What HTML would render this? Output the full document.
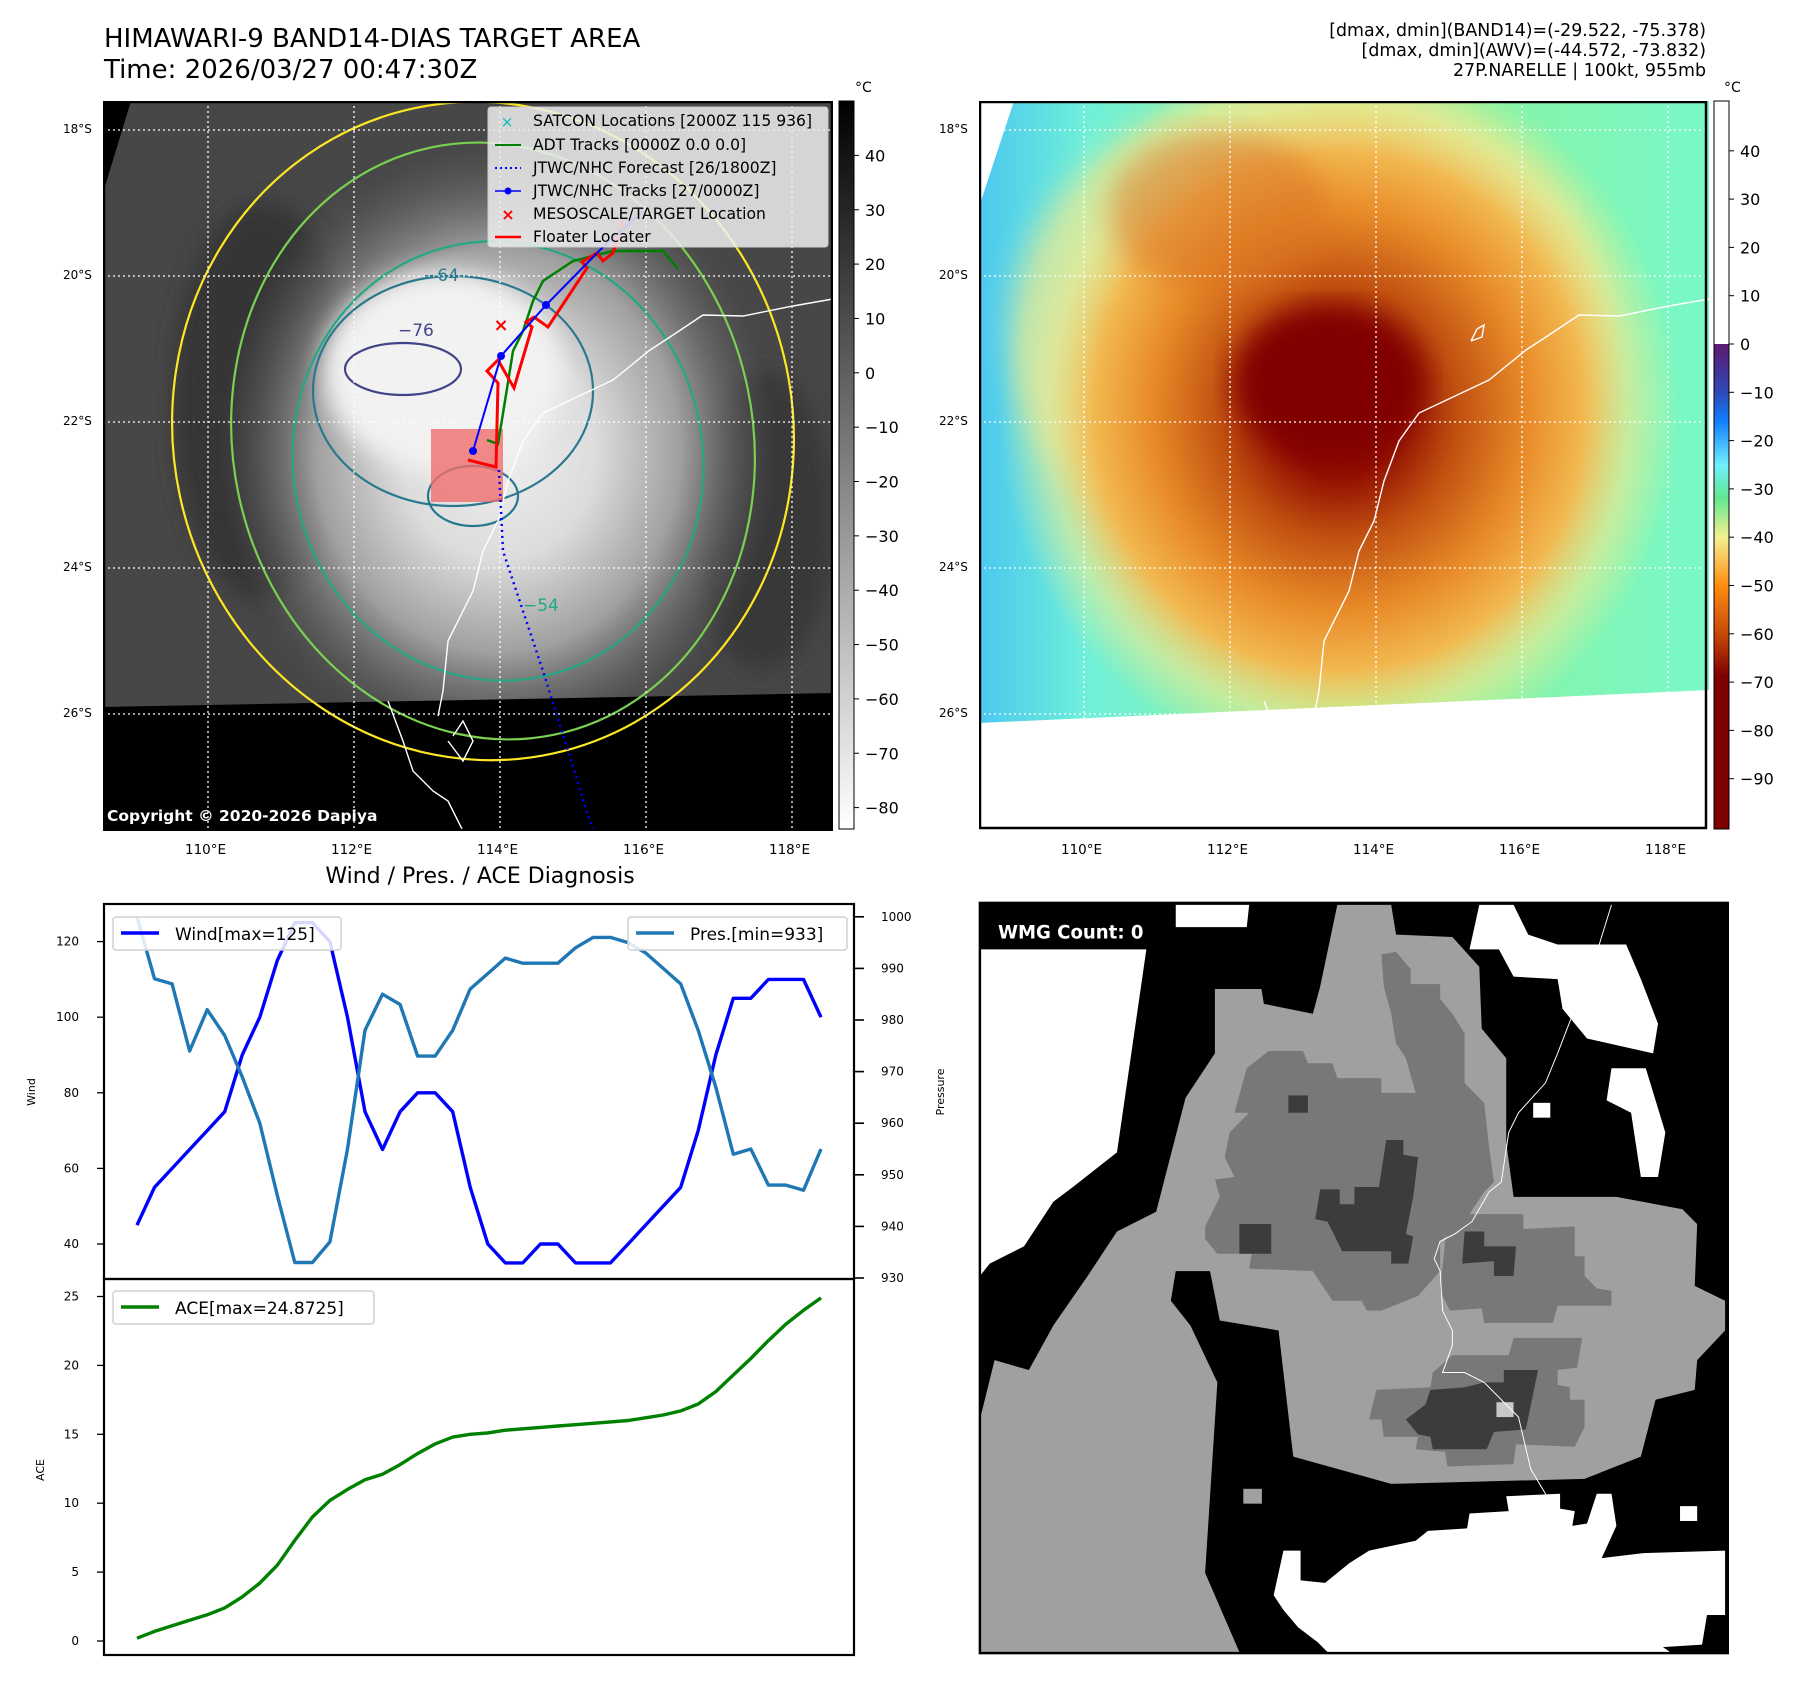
<!DOCTYPE html>
<html><head><meta charset="utf-8">
<style>
html,body{margin:0;padding:0;background:#fff;}
body{width:1797px;height:1690px;position:relative;overflow:hidden;font-family:"DejaVu Sans","Liberation Sans",sans-serif;}
.t{position:absolute;white-space:nowrap;color:#000;}
svg{position:absolute;}
</style></head><body>

<div class="t" style="left:104px;top:24px;font-size:26px;line-height:31px;">HIMAWARI-9 BAND14-DIAS TARGET AREA<br>Time: 2026/03/27 00:47:30Z</div>
<div class="t" style="right:91px;top:21px;font-size:17.4px;line-height:20px;text-align:right;">[dmax, dmin](BAND14)=(-29.522, -75.378)<br>[dmax, dmin](AWV)=(-44.572, -73.832)<br>27P.NARELLE | 100kt, 955mb</div>

<!-- LEFT MAP -->
<svg style="left:103px;top:101px" width="730" height="730" viewBox="0 0 730 730">
<defs>
<radialGradient id="core" cx="0.5" cy="0.5" r="0.5">
<stop offset="0" stop-color="#f0f0f0"/><stop offset="0.35" stop-color="#dcdcdc"/><stop offset="0.65" stop-color="#a0a0a0"/><stop offset="1" stop-color="#606060" stop-opacity="0"/>
</radialGradient>
<filter id="bl"><feGaussianBlur stdDeviation="12"/></filter>
</defs>
<rect width="730" height="730" fill="#474747"/>
<ellipse cx="160" cy="300" rx="90" ry="200" fill="#353535" filter="url(#bl)"/>
<ellipse cx="660" cy="420" rx="70" ry="150" fill="#383838" filter="url(#bl)"/>
<ellipse cx="395" cy="350" rx="280" ry="310" fill="url(#core)"/>
<ellipse cx="340" cy="270" rx="120" ry="100" fill="#f2f2f2" filter="url(#bl)"/>
<polygon points="0,0 28,0 0,92" fill="#000"/>
<polygon points="0,606 730,592 730,730 0,730" fill="#000"/>
<g fill="none" stroke-width="2.2">
<ellipse cx="380" cy="330" rx="310" ry="330" transform="rotate(-12 380 330)" stroke="#fde725"/>
<ellipse cx="390" cy="340" rx="260" ry="300" transform="rotate(-12 390 340)" stroke="#7ad151"/>
<ellipse cx="395" cy="360" rx="205" ry="220" transform="rotate(-10 395 360)" stroke="#22a884"/>
<ellipse cx="350" cy="290" rx="140" ry="115" stroke="#2a788e"/>
<ellipse cx="300" cy="268" rx="58" ry="26" stroke="#414487"/>
<ellipse cx="370" cy="395" rx="45" ry="30" stroke="#2a788e"/>
</g>
<text x="295" y="235" font-size="17" fill="#414487">−76</text>
<text x="320" y="180" font-size="17" fill="#2a788e">−64</text>
<text x="420" y="510" font-size="17" fill="#22a884">−54</text>
<g fill="none" stroke="#fff" stroke-width="1.4">
<polyline points="730,198 690,205 640,215 600,214 567,236 547,249 510,279 440,312 420,340 405,380 395,420 380,450 370,490 345,540 340,590 335,615"/>
<polyline points="285,600 300,640 310,670 330,690 345,700 360,730"/>
<polyline points="345,640 360,660 370,640 360,620 350,635"/>
</g>
<g stroke="#fff" stroke-width="1.3" stroke-dasharray="2,3">
<line x1="105" y1="0" x2="105" y2="730"/><line x1="251" y1="0" x2="251" y2="730"/><line x1="397" y1="0" x2="397" y2="730"/><line x1="543" y1="0" x2="543" y2="730"/><line x1="689" y1="0" x2="689" y2="730"/>
<line x1="0" y1="29" x2="730" y2="29"/><line x1="0" y1="175" x2="730" y2="175"/><line x1="0" y1="321" x2="730" y2="321"/><line x1="0" y1="467" x2="730" y2="467"/><line x1="0" y1="613" x2="730" y2="613"/>
</g>
<rect x="328" y="328" width="72" height="73" fill="rgba(240,110,110,0.8)"/>
<polyline points="396,369 400,450 440,570 490,730" fill="none" stroke="#0000ff" stroke-width="2.5" stroke-dasharray="2,4"/>
<polyline points="384,339 395,343 402,300 410,250 420,230 430,200 440,180 470,160 510,150 560,150 575,168" fill="none" stroke="#008000" stroke-width="2.5"/>
<polyline points="365,359 393,366 395,282 384,270 395,259 411,287 429,226 423,221 431,216 445,226 484,167 479,161 494,152 500,160 510,152 520,120" fill="none" stroke="#ff0000" stroke-width="3"/>
<polyline points="370,350 398,255 443,204 500,146 540,110" fill="none" stroke="#0000ff" stroke-width="2"/>
<circle cx="370" cy="350" r="4" fill="#0000ff"/><circle cx="398" cy="255" r="4" fill="#0000ff"/><circle cx="443" cy="204" r="4" fill="#0000ff"/>
<text x="398" y="230" font-size="18" font-weight="bold" fill="#ff0000" text-anchor="middle">×</text>
<g>
<rect x="385" y="6" width="340" height="140" rx="3" fill="rgba(238,238,238,0.85)" stroke="#ccc"/>
<g font-size="15.6" fill="#000">
<text x="404" y="26" fill="#00c0c0" font-size="15" text-anchor="middle">×</text><text x="430" y="25">SATCON Locations [2000Z 115 936]</text>
<line x1="392" y1="44" x2="418" y2="44" stroke="#008000" stroke-width="2"/><text x="430" y="49">ADT Tracks [0000Z 0.0 0.0]</text>
<line x1="392" y1="67" x2="418" y2="67" stroke="#0000ff" stroke-width="2" stroke-dasharray="2,3"/><text x="430" y="72">JTWC/NHC Forecast [26/1800Z]</text>
<line x1="392" y1="90" x2="418" y2="90" stroke="#0000ff" stroke-width="1.5"/><circle cx="405" cy="90" r="3.5" fill="#0000ff"/><text x="430" y="95">JTWC/NHC Tracks [27/0000Z]</text>
<text x="405" y="119" fill="#ff0000" font-size="16" font-weight="bold" text-anchor="middle">×</text><text x="430" y="118">MESOSCALE/TARGET Location</text>
<line x1="392" y1="136" x2="418" y2="136" stroke="#ff0000" stroke-width="2.5"/><text x="430" y="141">Floater Locater</text>
</g>
</g>
<text x="4" y="720" font-size="15.5" font-weight="bold" fill="#fff">Copyright © 2020-2026 Dapiya</text>
<rect x="1" y="1" width="728" height="728" fill="none" stroke="#000" stroke-width="2.5"/>
</svg>

<!-- left colorbar -->
<svg style="left:835px;top:80px" width="90" height="760">
<defs><linearGradient id="gcb" x1="0" y1="0" x2="0" y2="1"><stop offset="0" stop-color="#000"/><stop offset="1" stop-color="#fff"/></linearGradient></defs>
<rect x="4" y="21" width="15" height="728" fill="url(#gcb)" stroke="#000" stroke-width="1"/>
<text x="20" y="12" font-size="14">°C</text>
<g font-size="16" id="lcbt"></g>
</svg>

<!-- RIGHT MAP -->
<svg style="left:979px;top:101px" width="730" height="730" viewBox="0 0 730 730">
<defs>
<linearGradient id="bgR" x1="0" y1="0" x2="1" y2="0"><stop offset="0" stop-color="#4cc8f0"/><stop offset="0.15" stop-color="#70f0d8"/><stop offset="0.5" stop-color="#90f090"/><stop offset="1" stop-color="#78f8c8"/></linearGradient>
<radialGradient id="stormR" cx="0.5" cy="0.5" r="0.5">
<stop offset="0" stop-color="#800000"/><stop offset="0.18" stop-color="#900c00"/><stop offset="0.35" stop-color="#c05010"/><stop offset="0.55" stop-color="#e88a28"/><stop offset="0.72" stop-color="#f2b850"/><stop offset="0.86" stop-color="#f0e890" stop-opacity="0.6"/><stop offset="1" stop-color="#f0f090" stop-opacity="0"/>
</radialGradient>
<filter id="bl2"><feGaussianBlur stdDeviation="14"/></filter>
</defs>
<rect width="730" height="730" fill="url(#bgR)"/>
<ellipse cx="330" cy="230" rx="300" ry="250" fill="#f4e890" opacity="0.6" filter="url(#bl2)"/>
<ellipse cx="360" cy="310" rx="340" ry="360" fill="url(#stormR)"/>
<ellipse cx="240" cy="110" rx="110" ry="80" fill="#d87020" opacity="0.5" filter="url(#bl2)"/>
<ellipse cx="350" cy="280" rx="95" ry="75" fill="#800000" filter="url(#bl2)"/>
<polygon points="0,0 35,0 0,106" fill="#fff"/>
<polygon points="0,622 730,589 730,730 0,730" fill="#fff"/>
<g fill="none" stroke="#fff" stroke-width="1.4">
<polyline points="730,198 690,205 640,215 600,214 567,236 547,249 510,279 440,312 420,340 405,380 395,420 380,450 370,490 345,540 340,590 335,615"/>
<polyline points="285,600 300,640 310,670 330,690"/>
<polyline points="492,240 498,228 505,224 503,236 492,240"/>
</g>
<g stroke="#fff" stroke-width="1.3" stroke-dasharray="2,3">
<line x1="105" y1="0" x2="105" y2="730"/><line x1="251" y1="0" x2="251" y2="730"/><line x1="397" y1="0" x2="397" y2="730"/><line x1="543" y1="0" x2="543" y2="730"/><line x1="689" y1="0" x2="689" y2="730"/>
<line x1="0" y1="29" x2="730" y2="29"/><line x1="0" y1="175" x2="730" y2="175"/><line x1="0" y1="321" x2="730" y2="321"/><line x1="0" y1="467" x2="730" y2="467"/><line x1="0" y1="613" x2="730" y2="613"/>
</g>
<rect x="1" y="1" width="726" height="726" fill="none" stroke="#000" stroke-width="2.5"/>
</svg>

<!-- right colorbar -->
<svg style="left:1710px;top:80px" width="87" height="760">
<defs><linearGradient id="gcr" x1="0" y1="0" x2="0" y2="1">
<stop offset="0" stop-color="#fff"/><stop offset="0.334" stop-color="#fff"/><stop offset="0.334" stop-color="#5c1a70"/><stop offset="0.40" stop-color="#3048b8"/><stop offset="0.44" stop-color="#1080ff"/><stop offset="0.50" stop-color="#70f0ff"/><stop offset="0.545" stop-color="#60e890"/><stop offset="0.599" stop-color="#f4f090"/><stop offset="0.666" stop-color="#ff8c10"/><stop offset="0.732" stop-color="#c84808"/><stop offset="0.79" stop-color="#800000"/><stop offset="1" stop-color="#800000"/></linearGradient></defs>
<rect x="4" y="21" width="15" height="728" fill="url(#gcr)" stroke="#000" stroke-width="1"/>
<text x="14" y="12" font-size="14">°C</text>
<g font-size="16" id="rcbt"></g>
</svg>

<div id="maplabels"></div>

<div class="t" style="left:480px;top:864px;font-size:22px;transform:translateX(-50%);">Wind / Pres. / ACE Diagnosis</div>

<svg id="chart" style="left:0;top:880px" width="960" height="800" viewBox="0 880 960 800"></svg>

<!-- WMG panel -->
<svg style="left:975px;top:895px" width="754" height="767" viewBox="0 0 1540 1550" preserveAspectRatio="none">
<rect x="10" y="16" width="1528" height="1516" fill="#000"/>
<polygon fill="#fff" points="10,110 350,110 290,520 200,590 160,620 100,710 30,745 10,770"/>
<polygon fill="#fff" points="410,20 560,20 555,65 410,65"/>
<polygon fill="#fff" points="1030,20 1100,20 1130,80 1190,100 1330,100 1360,170 1395,260 1385,320 1250,290 1200,230 1190,170 1100,165 1070,110 1010,110"/>
<polygon fill="#fff" points="1300,350 1370,350 1410,480 1395,570 1360,570 1340,440 1290,415"/>
<rect fill="#fff" x="1140" y="420" width="35" height="30"/>
<rect fill="#fff" x="1285" y="135" width="35" height="30" />
<polygon fill="#a0a0a0" points="10,1530 540,1530 470,1370 495,985 440,870 400,820 410,760 480,760 500,860 620,880 650,1135 850,1190 1245,1180 1360,1135 1390,1020 1470,1000 1475,940 1532,880 1532,820 1470,790 1475,665 1445,635 1310,610 1100,610 1085,500 1085,330 1035,270 1030,145 975,85 860,80 850,20 740,20 705,185 690,240 590,220 585,190 490,190 490,320 430,410 370,640 290,680 230,770 160,870 110,960 40,940 10,1060"/>
<rect fill="#a0a0a0" x="548" y="1200" width="38" height="30"/>
<polygon fill="#787878" points="600,315 670,315 680,340 730,340 740,370 830,370 830,400 900,400 880,330 860,300 850,240 835,185 830,120 860,115 890,150 890,180 950,180 950,210 975,240 1000,280 1000,380 1040,420 1050,510 1060,580 1040,600 1000,660 950,700 950,760 905,810 830,840 800,840 790,820 730,820 690,760 560,755 565,725 495,725 470,695 470,670 500,610 490,575 530,570 510,530 520,480 560,440 530,440 555,350"/>
<polygon fill="#787878" points="980,645 1120,645 1120,675 1225,670 1225,730 1245,730 1245,770 1270,795 1300,800 1300,830 1190,830 1180,865 1040,865 1035,835 970,840 950,800 960,700"/>
<polygon fill="#787878" points="975,930 1090,930 1100,895 1240,895 1230,955 1190,960 1190,990 1215,995 1215,1020 1245,1020 1245,1075 1225,1115 1105,1110 1100,1150 965,1155 960,1125 900,1120 905,1095 835,1095 830,1060 805,1060 820,1000 930,995 935,965"/>
<polygon fill="#3c3c3c" points="840,495 875,495 875,525 905,530 895,610 880,685 895,690 885,745 850,745 850,720 750,720 720,660 695,655 705,595 745,595 745,625 775,625 775,590 825,590"/>
<rect fill="#3c3c3c" x="640" y="405" width="40" height="35"/>
<rect fill="#3c3c3c" x="540" y="665" width="65" height="60"/>
<polygon fill="#3c3c3c" points="1000,680 1040,680 1040,710 1105,710 1100,770 1060,770 1060,740 995,745"/>
<polygon fill="#3c3c3c" points="1080,960 1150,960 1125,1080 1060,1085 1045,1120 935,1120 930,1095 905,1090 880,1060 920,1030 930,1000 1000,995 1040,985 1080,985"/>
<rect fill="#c8c8c8" x="1065" y="1025" width="35" height="30"/>
<polygon fill="#fff" points="630,1325 665,1325 665,1385 715,1390 765,1350 805,1325 900,1305 925,1285 1005,1280 1010,1250 1090,1245 1085,1215 1195,1210 1195,1240 1225,1245 1220,1275 1250,1270 1270,1210 1300,1210 1310,1275 1280,1340 1365,1330 1532,1325 1532,1455 1495,1455 1485,1515 1405,1520 1420,1530 720,1530 700,1510 660,1480 630,1445 610,1415"/>
<rect fill="#fff" x="1440" y="1235" width="35" height="30"/>
<polyline fill="none" stroke="#fff" stroke-width="2" points="1300,20 1275,100 1225,230 1190,320 1165,380 1110,440 1090,480 1075,580 1050,600 1015,660 980,685 950,700 938,735 950,760 955,840 975,880 975,910 955,965 1000,965 1040,985 1110,1055 1135,1160 1165,1210 1180,1240 1185,1305"/>
<rect x="10" y="16" width="1528" height="1516" fill="none" stroke="#000" stroke-width="5"/>
<rect x="35" y="45" width="362" height="62" rx="8" fill="#000"/>
<text x="47" y="88" font-size="37" font-weight="bold" fill="#fff">WMG Count: 0</text>
</svg>

<script>
// ---- chart data ----
const windValues = [45,55,60,65,70,75,90,100,115,125,125,120,100,75,65,75,80,80,75,55,40,35,35,40,40,35,35,35,40,45,50,55,70,90,105,105,110,110,110,100];
const presValues = [1000,988,987,974,982,977,969,960,946,933,933,937,955,978,985,983,973,973,978,986,989,992,991,991,991,994,996,996,995,993,990,987,978,967,954,955,948,948,947,955];
const aceValues = [0.2,0.7,1.1,1.5,1.9,2.4,3.2,4.2,5.5,7.3,9.0,10.2,11.0,11.7,12.1,12.8,13.6,14.3,14.8,15.0,15.1,15.3,15.4,15.5,15.6,15.7,15.8,15.9,16.0,16.2,16.4,16.7,17.2,18.1,19.3,20.5,21.8,23.0,24.0,24.9];
const windTicks = [40,60,80,100,120];
const presTicks = [930,940,950,960,970,980,990,1000];
const aceTicks = [0,5,10,15,20,25];
const lonLabels = ["110°E","112°E","114°E","116°E","118°E"];
const latLabels = ["18°S","20°S","22°S","24°S","26°S"];
const leftCbTicks = [40,30,20,10,0,-10,-20,-30,-40,-50,-60,-70,-80];
const rightCbTicks = [40,30,20,10,0,-10,-20,-30,-40,-50,-60,-70,-80,-90];

const NS = "http://www.w3.org/2000/svg";
const svg = document.getElementById('chart');
function xS(i){ return 137 + i*(684/(windValues.length-1)); }
function yWind(v){ return 1244 - (v-40)*3.78; }
function yPres(v){ return 1278 - (v-930)*5.16; }
function yAce(v){ return 1641 - v*13.78; }
function mk(tag, attrs, parent){ const e=document.createElementNS(NS,tag); for(const k in attrs) e.setAttribute(k,attrs[k]); (parent||svg).appendChild(e); return e; }

const topBox = mk('rect',{x:104,y:904,width:750,height:375,fill:'none',stroke:'#000','stroke-width':2.2});


const botBox = mk('rect',{x:104,y:1279,width:750,height:376,fill:'none',stroke:'#000','stroke-width':2.2});



function tickLeft(y,label,name){
  mk('line',{x1:97,y1:y,x2:104,y2:y,stroke:'#000','stroke-width':1.3});
  const t=mk('text',{x:79,y:y+4,'font-size':12,'text-anchor':'end'}); t.textContent=label;
  
  
}
windTicks.forEach(v=>tickLeft(yWind(v),v,'wind-tick-label'));
aceTicks.forEach(v=>tickLeft(yAce(v),v,'ace-tick-label'));
presTicks.forEach(v=>{
  const y=yPres(v);
  mk('line',{x1:854,y1:y,x2:864,y2:y,stroke:'#000','stroke-width':1.6});
  const t=mk('text',{x:881,y:y+4,'font-size':12}); t.textContent=v;
  
  
});
function ylab(x,y,txt,name){
  const t=mk('text',{x:x,y:y,'font-size':11,'text-anchor':'middle',transform:`rotate(-90 ${x} ${y})`}); t.textContent=txt;
  
  
}
ylab(35,1092,'Wind','wind-axis-title');
ylab(944,1092,'Pressure','pressure-axis-title');
ylab(44,1470,'ACE','ace-axis-title');

function line(vals,yf,color,name){
  const p=vals.map((v,i)=>xS(i).toFixed(1)+','+yf(v).toFixed(1)).join(' ');
  const l=mk('polyline',{points:p,fill:'none',stroke:color,'stroke-width':3.4,'stroke-linejoin':'round'});
  
  
}
line(windValues,yWind,'#0000ff','wind-line');
line(presValues,yPres,'#1f77b4','pressure-line');
line(aceValues,yAce,'#008000','ace-line');

function legend(x,y,w,color,txt,name){
  const g=mk('g',{});
  
  
  mk('rect',{x:x,y:y,width:w,height:33,rx:3,fill:'rgba(255,255,255,0.85)',stroke:'#d0d0d0','stroke-width':1.5},g);
  mk('line',{x1:x+8,y1:y+16,x2:x+46,y2:y+16,stroke:color,'stroke-width':3.4},g);
  const t=mk('text',{x:x+62,y:y+23,'font-size':17},g); t.textContent=txt;
}
legend(113,917,228,'#0000ff','Wind[max=125]','wind-legend');
legend(628,917,219,'#1f77b4','Pres.[min=933]','pressure-legend');
legend(113,1291,261,'#008000','ACE[max=24.8725]','ace-legend');

const ml=document.getElementById('maplabels');
const lonX=[208,354,500,646,792], latY=[130,276,422,568,714];
[0,876].forEach((off,mi)=>{
  lonLabels.forEach((s,i)=>{
    const d=document.createElement('div'); d.className='t'; d.textContent=s;
    
    
    d.style.cssText=`left:${off+lonX[i]-23}px;top:842px;font-size:13.5px;`;
    ml.appendChild(d);
  });
  latLabels.forEach((s,i)=>{
    const d=document.createElement('div'); d.className='t'; d.textContent=s;
    
    
    d.style.cssText=`left:${off+63}px;top:${latY[i]-8}px;font-size:12px;`;
    ml.appendChild(d);
  });
});
function cbTicks(id,ticks,yf){
  const g=document.getElementById(id);
  ticks.forEach(v=>{
    const y=yf(v);
    const l=document.createElementNS(NS,'line'); l.setAttribute('x1',19);l.setAttribute('x2',24);l.setAttribute('y1',y);l.setAttribute('y2',y);l.setAttribute('stroke','#000'); g.appendChild(l);
    const t=document.createElementNS(NS,'text'); t.setAttribute('x',30); t.setAttribute('y',y+6); t.textContent=(v<0?'\u2212'+(-v):v);
    
    
    g.appendChild(t);
  });
}
cbTicks('lcbt',leftCbTicks,v=>727.6-(v+80)*5.435);
cbTicks('rcbt',rightCbTicks,v=>264-v*4.83);
</script>
</body></html>
